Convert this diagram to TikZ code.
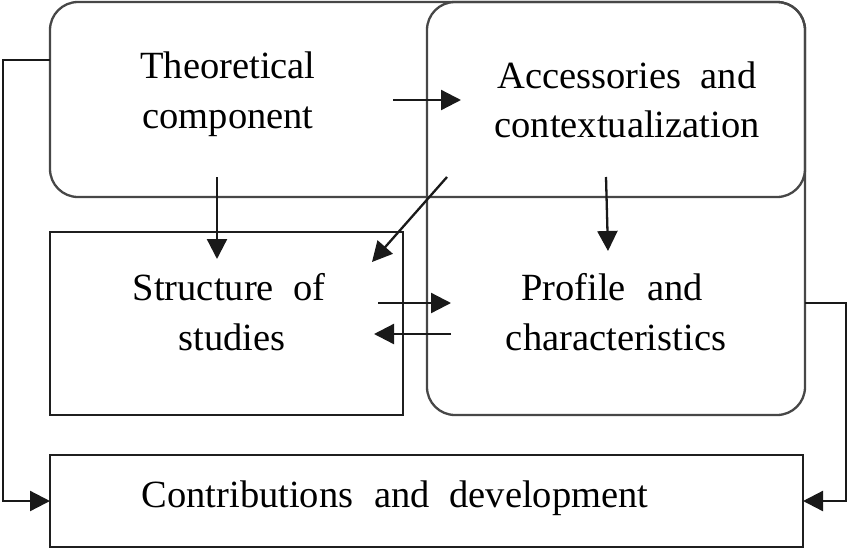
\documentclass[tikz,border=0pt]{standalone}
\usepackage{fontspec}
\setmainfont{Liberation Serif}
\usetikzlibrary{arrows.meta}
\begin{document}
\begin{tikzpicture}[x=1pt,y=-1pt,
  rbox/.style={draw=black!72, line width=2.3pt, rounded corners=28pt, inner sep=0pt, outer sep=0pt, anchor=north west},
  sbox/.style={draw=black!88, line width=2.3pt, inner sep=0pt, outer sep=0pt, anchor=north west},
  lbl/.style={anchor=base, inner sep=0pt, font=\fontsize{38.5}{50}\selectfont},
  arr/.style={line width=2.3pt, black!90, -{Triangle[length=20pt,width=20pt]}}]
\useasboundingbox (0,0) rectangle (850,552);
% boxes
\node[rbox, minimum width=378, minimum height=413] (prof) at (427,2) {};
\node[rbox, minimum width=755, minimum height=195] (theo) at (50,2) {};
\node[sbox, minimum width=353, minimum height=183] (struc) at (50,232) {};
\node[sbox, minimum width=753, minimum height=92] (contrib) at (50,455) {};
% labels
\node[lbl] (theoA) at (228,78) {Theoretical};
\node[lbl] (theoB) at (228,128) {component};
\node[lbl] (accA) at (627,88) {Accessories\hspace{0.5em}and};
\node[lbl] (accB) at (627,137) {contextualization};
\node[lbl] (strA) at (229,300) {Structure\hspace{0.5em}of};
\node[lbl] (strB) at (232,350) {studies};
\node[lbl] (proA) at (612,300) {Profile\hspace{0.55em}and};
\node[lbl] (proB) at (616,350) {characteristics};
\node[lbl] (conA) at (395,507) {Contributions\hspace{0.55em}and\hspace{0.5em}development};
% arrow end points
\coordinate (a1s) at (393,100); \coordinate (a1e) at (461,100);
\coordinate (a2s) at (217,177); \coordinate (a2e) at (217,259);
\coordinate (a3s) at (447,177); \coordinate (a3e) at (372,262);
\coordinate (a4s) at (606,177); \coordinate (a4e) at (608,251);
\coordinate (a5s) at (378,303); \coordinate (a5e) at (451,303);
\coordinate (a6s) at (451,334); \coordinate (a6e) at (374,334);
\coordinate (l0) at (50,60); \coordinate (l1) at (3,60); \coordinate (l2) at (3,501);
\coordinate (r0) at (805,303); \coordinate (r1) at (846,303); \coordinate (r2) at (846,501);
% connectors
\draw[arr] (a1s) -- (a1e);
\draw[arr] (a2s) -- (a2e);
\draw[arr] (a3s) -- (a3e);
\draw[arr] (a4s) -- (a4e);
\draw[arr] (a5s) -- (a5e);
\draw[arr] (a6s) -- (a6e);
\draw[arr] (l0) -- (l1) -- (l2) -- (contrib.west);
\draw[arr] (r0) -- (r1) -- (r2) -- (contrib.east);
\end{tikzpicture}
\end{document}
